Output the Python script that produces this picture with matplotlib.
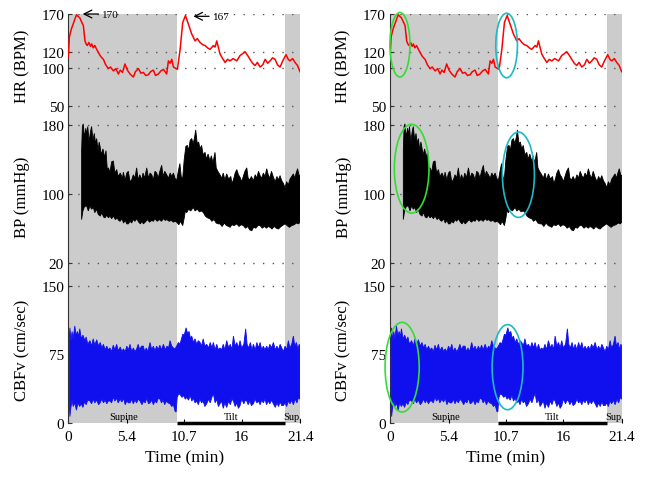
#!/usr/bin/env python3
"""
HR / BP / CBFv traces over a supine-tilt-supine protocol, two columns
(right column repeats the traces with the early responses circled).
"""

import matplotlib

matplotlib.use("Agg")  # headless
import matplotlib.pyplot as plt
import numpy as np
from matplotlib.patches import Ellipse

plt.rcParams["font.family"] = ["Liberation Serif", "DejaVu Serif"]

# protocol phases (min)
T_END = 21.4
SUPINE_END = 10.0
TILT_END = 20.0
x_ticks = [0, 5.4, 10.7, 16, 21.4]
x_ticklabels = ["0", "5.4", "10.7", "16", "21.4"]
phase_labels = [(5.1, "Supine"), (15.0, "Tilt"), (20.7, "Sup.")]

# heart rate (BPM)
hr_t = [0.00, 0.10, 0.20, 0.32, 0.45, 0.60, 0.76, 0.90, 1.06, 1.22,
        1.39, 1.54, 1.65, 1.75, 1.90, 2.05, 2.16, 2.30, 2.45, 2.62,
        2.78, 2.93, 3.10, 3.24, 3.45, 3.70, 3.90, 4.16, 4.40, 4.62,
        4.80, 5.00, 5.23, 5.45, 5.70, 6.00, 6.20, 6.47, 6.70, 6.93,
        7.15, 7.39, 7.60, 7.85, 8.05, 8.31, 8.55, 8.78, 9.08, 9.24,
        9.40, 9.55, 9.70, 10.07, 10.32, 10.56, 10.81, 11.08, 11.39, 11.70,
        11.90, 12.16, 12.40, 12.62, 12.85, 13.08, 13.39, 13.55, 13.70, 14.00,
        14.20, 14.47, 14.70, 14.93, 15.20, 15.55, 15.85, 16.05, 16.31, 16.55,
        16.77, 17.00, 17.23, 17.45, 17.70, 17.95, 18.16, 18.40, 18.62, 18.85,
        19.08, 19.30, 19.54, 19.79, 20.09, 20.30, 20.46, 20.70, 20.92, 21.15, 21.38]
hr_v = [114, 140, 146, 152, 157, 163, 169, 167, 165, 160,
        155, 135, 131, 129, 133, 128, 131, 126, 129, 124,
        120, 116, 113, 111, 104, 99, 101, 96, 99, 92,
        97, 94, 105, 97, 92, 88, 95, 99, 93, 94,
        90, 91, 95, 97, 90, 92, 96, 98, 92, 109,
        106, 111, 101, 98, 124, 159, 168, 157, 144, 135,
        138, 133, 130, 129, 126, 124, 129, 127, 135, 118,
        113, 107, 111, 109, 112, 109, 116, 118, 121, 116,
        111, 106, 103, 107, 101, 104, 111, 106, 109, 113,
        111, 104, 101, 109, 117, 111, 109, 112, 107, 103, 95]
hr_peaks = [(1.33, 170, "170"), (11.54, 167, "167")]

# blood pressure envelope (mmHg), (min, value)
bp_upper = [
    (1.23, 150), (1.30, 178), (1.38, 181), (1.50, 165), (1.62, 176), (1.69, 168),
    (1.80, 178), (1.92, 160), (2.05, 172), (2.15, 178), (2.28, 162), (2.40, 170),
    (2.52, 158), (2.62, 164), (2.75, 150), (2.85, 160), (2.93, 155), (3.05, 145),
    (3.20, 152), (3.35, 142), (3.48, 150), (3.60, 128), (3.70, 130), (3.85, 125),
    (4.00, 137), (4.16, 138), (4.30, 124), (4.47, 128), (4.60, 120), (4.80, 124),
    (5.00, 118), (5.08, 125), (5.25, 116), (5.40, 124), (5.54, 126), (5.70, 114),
    (5.85, 116), (6.00, 122), (6.15, 118), (6.31, 130), (6.45, 116), (6.60, 122),
    (6.77, 116), (6.90, 124), (7.05, 118), (7.24, 130), (7.40, 118), (7.55, 124),
    (7.70, 122), (7.85, 116), (8.00, 126), (8.16, 124), (8.30, 118), (8.45, 126),
    (8.62, 133), (8.75, 120), (8.90, 126), (9.08, 122), (9.25, 118), (9.40, 124),
    (9.55, 120), (9.70, 124), (9.85, 118), (10.00, 115), (10.15, 126), (10.30, 135),
    (10.42, 120), (10.55, 117), (10.70, 140), (10.85, 155), (10.99, 156), (11.10, 150),
    (11.25, 162), (11.39, 164), (11.52, 158), (11.65, 165), (11.76, 174), (11.90, 158),
    (12.03, 160), (12.16, 152), (12.30, 156), (12.45, 145), (12.62, 148), (12.75, 140),
    (12.90, 146), (13.08, 138), (13.20, 144), (13.35, 136), (13.54, 148), (13.65, 130),
    (13.80, 126), (14.00, 122), (14.15, 118), (14.30, 124), (14.45, 116), (14.62, 123),
    (14.80, 117), (15.00, 120), (15.10, 112), (15.24, 116), (15.40, 124), (15.55, 128),
    (15.70, 122), (15.85, 119), (16.00, 114), (16.15, 120), (16.30, 126), (16.47, 130),
    (16.60, 118), (16.75, 116), (16.90, 120), (17.08, 115), (17.25, 122), (17.40, 118),
    (17.55, 126), (17.70, 121), (17.85, 118), (18.00, 124), (18.15, 120), (18.31, 129),
    (18.45, 122), (18.60, 118), (18.75, 126), (18.93, 119), (19.10, 114), (19.25, 120),
    (19.40, 116), (19.54, 121), (19.70, 115), (19.85, 112), (20.00, 107), (20.15, 114),
    (20.30, 110), (20.46, 117), (20.62, 120), (20.77, 123), (20.90, 118), (21.05, 125),
    (21.16, 129), (21.28, 122), (21.38, 121),
]
bp_lower = [
    (1.23, 70), (1.35, 80), (1.50, 85), (1.69, 86), (1.85, 80), (2.00, 86),
    (2.15, 82), (2.31, 84), (2.45, 78), (2.60, 82), (2.77, 76), (2.95, 74),
    (3.10, 78), (3.25, 73), (3.39, 72), (3.55, 75), (3.70, 72), (3.85, 74),
    (4.00, 71), (4.16, 74), (4.35, 70), (4.50, 72), (4.65, 69), (4.78, 68),
    (4.95, 71), (5.10, 66), (5.25, 69), (5.40, 65), (5.54, 65), (5.70, 68),
    (5.85, 66), (6.00, 70), (6.15, 68), (6.31, 71), (6.50, 67), (6.65, 65),
    (6.80, 68), (6.93, 65), (7.10, 67), (7.30, 70), (7.50, 67), (7.70, 69),
    (7.85, 68), (8.00, 71), (8.20, 68), (8.40, 70), (8.60, 68), (8.78, 71),
    (8.95, 69), (9.10, 70), (9.30, 68), (9.50, 69), (9.70, 67), (9.85, 68),
    (10.00, 67), (10.20, 64), (10.35, 68), (10.56, 63), (10.70, 72), (10.80, 80),
    (10.93, 78), (11.10, 82), (11.30, 80), (11.54, 84), (11.70, 80), (11.90, 82),
    (12.10, 79), (12.30, 80), (12.47, 78), (12.65, 74), (12.85, 72), (13.08, 71),
    (13.25, 68), (13.45, 70), (13.65, 66), (13.85, 65), (14.00, 65), (14.20, 62),
    (14.40, 66), (14.60, 63), (14.80, 62), (14.93, 61), (15.10, 64), (15.30, 63),
    (15.55, 65), (15.75, 62), (15.95, 64), (16.16, 63), (16.35, 60), (16.55, 62),
    (16.75, 58), (16.93, 57), (17.10, 61), (17.30, 60), (17.50, 63), (17.70, 63),
    (17.90, 60), (18.10, 62), (18.30, 60), (18.45, 62), (18.62, 61), (18.80, 59),
    (19.00, 62), (19.20, 60), (19.39, 59), (19.55, 61), (19.75, 63), (20.00, 65),
    (20.20, 63), (20.40, 61), (20.62, 63), (20.85, 64), (21.05, 66), (21.25, 65),
    (21.38, 67),
]

# cerebral blood flow velocity envelope (cm/sec), (min, value)
cbfv_upper = [
    (0.10, 95), (0.15, 104), (0.25, 90), (0.35, 100), (0.45, 92), (0.60, 106),
    (0.72, 96), (0.85, 100), (0.95, 94), (1.06, 103), (1.20, 92), (1.35, 96),
    (1.54, 90), (1.65, 94), (1.80, 86), (2.00, 90), (2.15, 84), (2.30, 92),
    (2.45, 85), (2.62, 91), (2.80, 84), (2.95, 88), (3.10, 82), (3.24, 86),
    (3.40, 80), (3.55, 84), (3.70, 80), (3.85, 82), (4.00, 78), (4.15, 85),
    (4.30, 80), (4.47, 86), (4.60, 79), (4.80, 83), (4.95, 78), (5.08, 81),
    (5.25, 78), (5.40, 84), (5.55, 80), (5.70, 86), (5.85, 78), (6.00, 82),
    (6.15, 78), (6.31, 81), (6.45, 86), (6.60, 80), (6.75, 84), (6.93, 84),
    (7.05, 78), (7.20, 82), (7.35, 78), (7.54, 88), (7.70, 80), (7.85, 84),
    (8.00, 79), (8.16, 84), (8.30, 80), (8.45, 85), (8.60, 80), (8.78, 86),
    (8.95, 80), (9.10, 84), (9.25, 82), (9.39, 90), (9.55, 84), (9.70, 82),
    (9.85, 81), (10.00, 84), (10.16, 88), (10.30, 86), (10.45, 92), (10.56, 97),
    (10.70, 96), (10.87, 104), (11.00, 98), (11.15, 100), (11.28, 92), (11.39, 95),
    (11.55, 88), (11.70, 92), (11.85, 86), (12.00, 90), (12.16, 88), (12.30, 84),
    (12.45, 92), (12.60, 84), (12.77, 86), (12.95, 82), (13.10, 88), (13.25, 82),
    (13.39, 88), (13.55, 80), (13.70, 86), (13.85, 80), (14.00, 82), (14.15, 80),
    (14.30, 86), (14.45, 80), (14.62, 90), (14.80, 82), (14.95, 86), (15.10, 80),
    (15.24, 95), (15.40, 84), (15.55, 88), (15.70, 82), (15.85, 90), (16.00, 82),
    (16.20, 86), (16.37, 103), (16.50, 86), (16.65, 82), (16.80, 88), (16.95, 80),
    (17.08, 86), (17.25, 80), (17.40, 88), (17.55, 82), (17.70, 88), (17.85, 80),
    (18.00, 84), (18.15, 80), (18.31, 84), (18.45, 80), (18.60, 86), (18.75, 82),
    (18.93, 88), (19.10, 80), (19.25, 84), (19.40, 80), (19.55, 86), (19.70, 82),
    (19.85, 78), (20.00, 84), (20.15, 80), (20.31, 90), (20.45, 82), (20.62, 86),
    (20.77, 95), (20.90, 84), (21.05, 88), (21.20, 80), (21.30, 86), (21.38, 84),
]
cbfv_lower = [
    (0.10, 20), (0.15, 7), (0.22, 15), (0.35, 25), (0.45, 18), (0.60, 22),
    (0.75, 14), (0.90, 22), (1.05, 18), (1.20, 21), (1.35, 17), (1.50, 23),
    (1.65, 20), (1.80, 25), (2.00, 24), (2.15, 21), (2.30, 26), (2.45, 22),
    (2.62, 25), (2.80, 20), (2.93, 22), (3.10, 26), (3.25, 22), (3.40, 25),
    (3.55, 21), (3.70, 24), (3.85, 24), (4.00, 22), (4.15, 28), (4.30, 24),
    (4.47, 27), (4.60, 22), (4.78, 26), (4.95, 23), (5.10, 27), (5.25, 20),
    (5.40, 24), (5.55, 22), (5.70, 22), (5.85, 26), (6.00, 21), (6.15, 25),
    (6.31, 22), (6.45, 26), (6.62, 24), (6.80, 20), (6.95, 24), (7.10, 22),
    (7.25, 27), (7.40, 21), (7.54, 22), (7.70, 25), (7.85, 20), (8.00, 24),
    (8.15, 22), (8.30, 27), (8.47, 26), (8.60, 22), (8.75, 25), (8.90, 20),
    (9.05, 24), (9.20, 22), (9.39, 21), (9.55, 18), (9.70, 20), (9.85, 13),
    (9.95, 12), (10.05, 28), (10.20, 32), (10.32, 31), (10.50, 28), (10.65, 30),
    (10.80, 26), (10.93, 28), (11.10, 25), (11.25, 30), (11.40, 24), (11.55, 27),
    (11.70, 22), (11.85, 24), (12.00, 20), (12.15, 26), (12.30, 22), (12.45, 24),
    (12.60, 18), (12.77, 21), (12.95, 26), (13.10, 22), (13.25, 28), (13.39, 32),
    (13.55, 22), (13.70, 26), (13.85, 18), (14.00, 21), (14.15, 24), (14.30, 16),
    (14.45, 22), (14.62, 17), (14.80, 24), (14.95, 20), (15.10, 26), (15.24, 24),
    (15.40, 18), (15.55, 22), (15.70, 16), (15.85, 19), (16.00, 26), (16.20, 21),
    (16.35, 25), (16.47, 24), (16.60, 20), (16.75, 24), (16.90, 19), (17.08, 21),
    (17.25, 26), (17.40, 22), (17.55, 24), (17.70, 20), (17.85, 25), (18.00, 22),
    (18.15, 26), (18.30, 20), (18.45, 24), (18.60, 21), (18.75, 25), (18.93, 21),
    (19.10, 17), (19.25, 22), (19.40, 18), (19.55, 23), (19.70, 19), (19.85, 19),
    (20.00, 22), (20.15, 18), (20.30, 24), (20.46, 21), (20.62, 25), (20.77, 20),
    (20.95, 26), (21.10, 22), (21.25, 28), (21.38, 26),
]

# circled responses in the right column: (centre min, centre value, width min, height)
hr_circles = [(0.92, 130, 1.85, 84, "#33dd33"), (10.76, 129, 2.0, 84, "#20b8c4")]
bp_circles = [(2.0, 129, 3.2, 103, "#33dd33"), (11.85, 122, 2.95, 99, "#20b8c4")]
cbfv_circles = [(1.12, 61, 3.15, 98, "#33dd33"), (10.85, 61, 2.85, 93, "#20b8c4")]

GRAY = "#cccccc"
GRID = "#555555"


def panel(fig, left, bottom, height, ylim, yticks, ylabel, last=False):
    ax = fig.add_axes([left, bottom, 0.359, height])
    ax.set_xlim(0, T_END)
    ax.set_ylim(*ylim)
    ax.axvspan(0, SUPINE_END, color=GRAY, lw=0, zorder=0)
    ax.axvspan(TILT_END, T_END, color=GRAY, lw=0, zorder=0)
    for y in yticks:
        if y > ylim[0]:
            ax.axhline(y, color=GRID, lw=1, ls=(0, (1, 6)), zorder=1)
    for s in ("top", "right", "bottom"):
        ax.spines[s].set_visible(False)
    ax.spines["left"].set_color("#333333")
    ax.set_yticks(yticks)
    ax.tick_params(axis="y", direction="in", length=3, pad=3, labelsize=11,
                   color="#333333")
    ax.set_ylabel(ylabel, fontsize=12)
    ax.yaxis.set_label_coords(-0.165, 0.5)
    if last:
        ax.set_xticks(x_ticks)
        ax.set_xticklabels(x_ticklabels)
        ax.tick_params(axis="x", direction="in", length=3, pad=5, labelsize=11)
        ax.set_xlabel("Time (min)", fontsize=12.5, labelpad=5)
    else:
        ax.tick_params(axis="x", bottom=False, labelbottom=False)
    return ax


def band(ax, upper, lower, color):
    tu, vu = np.array(upper).T
    tl, vl = np.array(lower).T
    ax.fill(np.r_[tu, tl[::-1]], np.r_[vu, vl[::-1]], color=color,
            lw=0.6, zorder=3)


def draw_column(fig, left, circles):
    ax_hr = panel(fig, left, 0.7547, 0.2141, (36, 170), [50, 100, 120, 170], "HR (BPM)")
    ax_bp = panel(fig, left, 0.4262, 0.3285, (5.7, 189), [20, 100, 180], "BP (mmHg)")
    ax_cb = panel(fig, left, 0.1185, 0.3077, (0, 161.7), [0, 75, 150], "CBFv (cm/sec)",
                  last=True)

    ax_hr.plot(hr_t, hr_v, color="#ff0000", lw=1.1, zorder=3)
    band(ax_bp, bp_upper, bp_lower, "black")
    band(ax_cb, cbfv_upper, cbfv_lower, "#1010ee")

    # tilt period bar and phase names
    ax_cb.plot([SUPINE_END, TILT_END], [0, 0], color="black", lw=2.5,
               solid_capstyle="butt", clip_on=False, zorder=4)
    for x, name in phase_labels:
        ax_cb.text(x, 2, name, fontsize=7.5, ha="center", va="bottom", zorder=5)

    if circles:
        for ax, ells in zip((ax_hr, ax_bp, ax_cb), (hr_circles, bp_circles, cbfv_circles)):
            for cx, cy, w, h, col in ells:
                ax.add_patch(Ellipse((cx, cy), w, h, fill=False, ec=col, lw=1.2,
                                     zorder=5, clip_on=False))
    else:
        for x, y, txt in hr_peaks:
            ax_hr.annotate("", xy=(x, y), xytext=(x + 1.45, y),
                           arrowprops=dict(arrowstyle="->", lw=0.9, color="black",
                                           mutation_scale=14, shrinkA=0, shrinkB=0),
                           annotation_clip=False)
            ax_hr.text(x + 1.8, y, txt, fontsize=8, va="center", ha="left")


def main():
    fig = plt.figure(figsize=(6.46, 4.81), dpi=100)
    draw_column(fig, 0.1057, circles=False)
    draw_column(fig, 0.6037, circles=True)
    fig.savefig("out.png", dpi=100)
    plt.close(fig)
    print("wrote out.png")


if __name__ == "__main__":
    main()
